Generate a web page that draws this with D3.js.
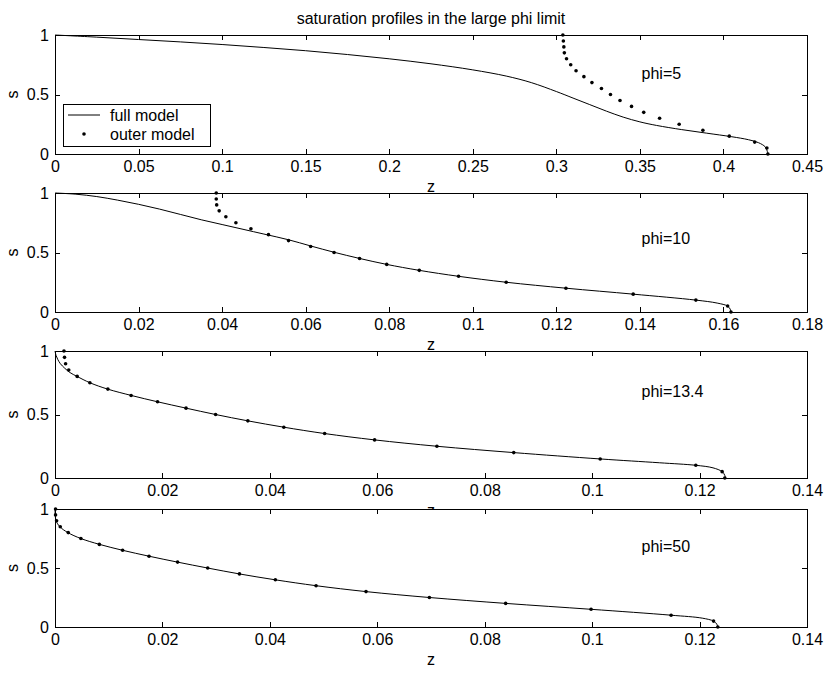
<!DOCTYPE html>
<html>
<head>
<meta charset="utf-8">
<script src="https://cdn.jsdelivr.net/npm/d3@7"></script>
<style>
  html, body { margin: 0; padding: 0; background: #fff; }
  svg { display: block; }
  text { font-family: "Liberation Sans", Arial, Helvetica, sans-serif; fill: #000; }
</style>
</head>
<body>
<svg id="chart" width="828" height="675"></svg>
<script>
// ---- data ----------------------------------------------------------------
const titleText = "saturation profiles in the large phi limit";
const phiLabels = ["phi=5", "phi=10", "phi=13.4", "phi=50"];
const zDomainMax = [0.45, 0.18, 0.14, 0.14];
const zTickLabels = [
  ["0", "0.05", "0.1", "0.15", "0.2", "0.25", "0.3", "0.35", "0.4", "0.45"],
  ["0", "0.02", "0.04", "0.06", "0.08", "0.1", "0.12", "0.14", "0.16", "0.18"],
  ["0", "0.02", "0.04", "0.06", "0.08", "0.1", "0.12", "0.14"],
  ["0", "0.02", "0.04", "0.06", "0.08", "0.1", "0.12", "0.14"]
];
const sTickLabels = ["0", "0.5", "1"];
const legendLabels = ["full model", "outer model"];

// full model, phi = 5
const fullZ5 = [0, 0.025, 0.05, 0.075, 0.1, 0.125, 0.15, 0.175, 0.2, 0.225, 0.25, 0.27, 0.285, 0.3, 0.31, 0.32, 0.33, 0.34, 0.35, 0.36, 0.375, 0.39, 0.405, 0.415, 0.421, 0.425, 0.4263, 0.4266];
const fullS5 = [1, 0.982, 0.962, 0.942, 0.92, 0.895, 0.868, 0.836, 0.80, 0.758, 0.707, 0.655, 0.60, 0.525, 0.47, 0.415, 0.36, 0.31, 0.27, 0.24, 0.205, 0.175, 0.145, 0.12, 0.095, 0.06, 0.02, 0];
// full model, phi = 10
const fullZ10 = [0, 0.005, 0.01, 0.015, 0.02, 0.025, 0.03, 0.035, 0.04, 0.045, 0.05, 0.0559, 0.0612, 0.0668, 0.0729, 0.0794, 0.0872, 0.0966, 0.108, 0.1223, 0.1384, 0.1534, 0.1585, 0.161, 0.1616, 0.1618];
const fullS10 = [1, 0.99, 0.97, 0.94, 0.905, 0.865, 0.82, 0.775, 0.735, 0.695, 0.655, 0.607, 0.555, 0.502, 0.45, 0.4, 0.35, 0.3, 0.25, 0.2, 0.15, 0.1, 0.075, 0.05, 0.025, 0];
// full model, phi = 13.4
const fullZ13 = [0, 0.0002, 0.0005, 0.001, 0.0018, 0.0028, 0.0041, 0.0065, 0.0098, 0.0142, 0.0191, 0.0244, 0.0299, 0.0359, 0.0426, 0.0502, 0.0595, 0.0711, 0.0854, 0.1015, 0.1125, 0.1193, 0.1225, 0.1242, 0.1247, 0.1248];
const fullS13 = [1, 0.965, 0.935, 0.9, 0.865, 0.83, 0.8, 0.75, 0.7, 0.65, 0.6, 0.55, 0.5, 0.45, 0.4, 0.35, 0.3, 0.25, 0.2, 0.15, 0.12, 0.1, 0.08, 0.05, 0.02, 0];
// full model, phi = 50
const fullZ50 = [0, 0.00005, 0.0002, 0.0009, 0.0024, 0.0048, 0.0083, 0.0126, 0.0175, 0.0228, 0.0284, 0.0343, 0.041, 0.0486, 0.0579, 0.0697, 0.0839, 0.0998, 0.1147, 0.1205, 0.1226, 0.1232, 0.1234];
const fullS50 = [1, 0.95, 0.9, 0.85, 0.8, 0.75, 0.7, 0.65, 0.6, 0.55, 0.5, 0.45, 0.4, 0.35, 0.3, 0.25, 0.2, 0.15, 0.1, 0.075, 0.05, 0.025, 0];

// outer model: saturation levels and the matching depths for each phi
const outerS = [1, 0.95, 0.9, 0.85, 0.8, 0.75, 0.7, 0.65, 0.6, 0.55, 0.5, 0.45, 0.4, 0.35, 0.3, 0.25, 0.2, 0.15, 0.1, 0.05, 0];
const outerZ5 = [0.3039, 0.3042, 0.3045, 0.3048, 0.3061, 0.3086, 0.3118, 0.3165, 0.3213, 0.327, 0.3324, 0.3381, 0.345, 0.3523, 0.3618, 0.3735, 0.3877, 0.4035, 0.4187, 0.426, 0.4266];
const outerZ10 = [0.0386, 0.0386, 0.0387, 0.0393, 0.0409, 0.0433, 0.0469, 0.0511, 0.0559, 0.0612, 0.0668, 0.0729, 0.0794, 0.0872, 0.0966, 0.108, 0.1223, 0.1384, 0.1534, 0.161, 0.1618];
const outerZ13 = [0.00167, 0.00177, 0.00197, 0.00256, 0.00413, 0.00649, 0.00984, 0.01417, 0.01909, 0.0244, 0.0299, 0.0359, 0.0426, 0.0502, 0.0595, 0.0711, 0.0854, 0.1015, 0.1193, 0.1242, 0.1247];
const outerZ50 = [0.0001, 0.0001, 0.0003, 0.00098, 0.00246, 0.00482, 0.00826, 0.01259, 0.01751, 0.02282, 0.02843, 0.03434, 0.04102, 0.0486, 0.0579, 0.0697, 0.0839, 0.0998, 0.1147, 0.1226, 0.1234];

const fullZ = [fullZ5, fullZ10, fullZ13, fullZ50];
const fullS = [fullS5, fullS10, fullS13, fullS50];
const outerZ = [outerZ5, outerZ10, outerZ13, outerZ50];

// ---- layout --------------------------------------------------------------
const svg = d3.select("#chart");
const left = 55, right = 807;
const panelBox = [
  { top: 35, bottom: 154 },
  { top: 193, bottom: 312 },
  { top: 351, bottom: 478 },
  { top: 509, bottom: 627 }
];
// label anchors in axis-fraction units
const phiPos = [[0.78, 0.68], [0.78, 0.62], [0.78, 0.68], [0.78, 0.68]];
const tickLen = 5;
const fontSize = 16;

svg.append("text")
  .attr("x", (left + right) / 2)
  .attr("y", 18)
  .attr("dy", "0.35em")
  .attr("text-anchor", "middle")
  .attr("font-size", fontSize)
  .text(titleText);

panelBox.forEach((box, i) => {
  const x = d3.scaleLinear().domain([0, zDomainMax[i]]).range([left, right]);
  const y = d3.scaleLinear().domain([0, 1]).range([box.bottom, box.top]);
  const g = svg.append("g");

  // white plotting area (covers the previous panel's "z" label)
  g.append("rect")
    .attr("x", left).attr("y", box.top)
    .attr("width", right - left).attr("height", box.bottom - box.top)
    .attr("fill", "#fff");

  const zTicks = zTickLabels[i].map(Number);
  const sTicks = sTickLabels.map(Number);

  // axes: bottom/left with labels, top/right mirrored, ticks pointing inward
  const axBottom = d3.axisBottom(x).tickValues(zTicks)
    .tickFormat((d, k) => zTickLabels[i][k]).tickSizeInner(-tickLen).tickSizeOuter(0).tickPadding(7);
  const axTop = d3.axisTop(x).tickValues(zTicks)
    .tickFormat("").tickSizeInner(-tickLen).tickSizeOuter(0);
  const axLeft = d3.axisLeft(y).tickValues(sTicks)
    .tickFormat((d, k) => sTickLabels[k]).tickSizeInner(-tickLen).tickSizeOuter(0).tickPadding(6);
  const axRight = d3.axisRight(y).tickValues(sTicks)
    .tickFormat("").tickSizeInner(-tickLen).tickSizeOuter(0);

  const styleAxis = sel => {
    sel.selectAll("path").attr("stroke", "#000").attr("stroke-width", 1).attr("shape-rendering", "crispEdges");
    sel.selectAll("line").attr("stroke", "#000").attr("stroke-width", 1).attr("shape-rendering", "crispEdges");
    sel.selectAll("text").attr("font-size", fontSize)
      .attr("font-family", "Liberation Sans, Arial, sans-serif").attr("fill", "#000");
  };
  g.append("g").attr("transform", `translate(0,${box.bottom})`).call(axBottom).call(styleAxis);
  g.append("g").attr("transform", `translate(0,${box.top})`).call(axTop).call(styleAxis);
  g.append("g").attr("transform", `translate(${left},0)`).call(axLeft).call(styleAxis);
  g.append("g").attr("transform", `translate(${right},0)`).call(axRight).call(styleAxis);

  // full model curve
  const pts = fullZ[i].map((z, k) => [z, fullS[i][k]]);
  g.append("path")
    .datum(pts)
    .attr("fill", "none")
    .attr("stroke", "#000")
    .attr("stroke-width", 1)
    .attr("d", d3.line().x(d => x(d[0])).y(d => y(d[1])).curve(d3.curveCatmullRom.alpha(0.5)));

  // outer model points
  g.selectAll("circle.outer")
    .data(outerZ[i].map((z, k) => [z, outerS[k]]))
    .join("circle")
    .attr("class", "outer")
    .attr("cx", d => x(d[0]))
    .attr("cy", d => y(d[1]))
    .attr("r", 1.8)
    .attr("fill", "#000");

  // phi label
  g.append("text")
    .attr("x", x(zDomainMax[i] * phiPos[i][0]))
    .attr("y", y(phiPos[i][1]))
    .attr("dy", "0.35em")
    .attr("font-size", fontSize)
    .text(phiLabels[i]);

  // axis titles
  g.append("text")
    .attr("transform", `translate(12,${(box.top + box.bottom) / 2}) rotate(-90)`)
    .attr("text-anchor", "middle")
    .attr("dy", "0.35em")
    .attr("font-size", fontSize)
    .text("s");
  svg.append("text")
    .attr("class", "zlabel")
    .attr("x", (left + right) / 2)
    .attr("y", box.bottom + 32)
    .attr("dy", "0.35em")
    .attr("text-anchor", "middle")
    .attr("font-size", fontSize)
    .text("z");

  // legend in the first panel
  if (i === 0) {
    const lg = g.append("g");
    lg.append("rect")
      .attr("x", 63).attr("y", 104).attr("width", 147).attr("height", 42)
      .attr("fill", "#fff").attr("stroke", "#000").attr("stroke-width", 1)
      .attr("shape-rendering", "crispEdges");
    lg.append("line")
      .attr("x1", 68).attr("x2", 100).attr("y1", 115).attr("y2", 115)
      .attr("stroke", "#000").attr("stroke-width", 1);
    lg.append("circle").attr("cx", 84).attr("cy", 134).attr("r", 1.8).attr("fill", "#000");
    legendLabels.forEach((t, k) => {
      lg.append("text")
        .attr("x", 110).attr("y", 115 + k * 19)
        .attr("dy", "0.35em")
        .attr("font-size", fontSize)
        .text(t);
    });
  }
});

// keep "z" labels underneath the following panel's plotting area
svg.selectAll("text.zlabel").lower();
</script>
</body>
</html>
